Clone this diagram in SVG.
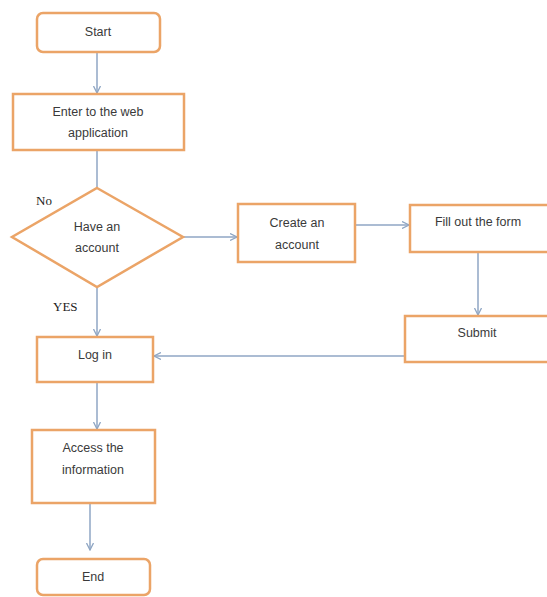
<svg xmlns="http://www.w3.org/2000/svg" width="547" height="597" viewBox="0 0 547 597">
<defs>
<style>
.box{fill:#fff;stroke:#EBA467;stroke-width:2.5}
.t{font-family:"Liberation Sans",Arial,sans-serif;font-size:12.5px;fill:#3a3a3a;text-anchor:middle;dominant-baseline:central}
.lbl{font-family:"Liberation Serif","Times New Roman",serif;font-size:13px;fill:#222;dominant-baseline:central}
.c{fill:none;stroke:#8FA6C4;stroke-width:1.5}
</style>
<marker id="ah" viewBox="0 0 8 8" refX="7" refY="4" markerWidth="8" markerHeight="8" markerUnits="userSpaceOnUse" orient="auto">
<path d="M0,0.5 L7,4 L0,7.5" fill="none" stroke="#8FA6C4" stroke-width="1.3"/>
</marker>
</defs>
<rect width="547" height="597" fill="#fff"/>
<g id="connectors">
<line class="c" x1="97" y1="52" x2="97" y2="93" marker-end="url(#ah)"/>
<line class="c" x1="97" y1="150" x2="97" y2="188"/>
<line class="c" x1="183" y1="237" x2="237" y2="237" marker-end="url(#ah)"/>
<line class="c" x1="355" y1="225" x2="409" y2="225" marker-end="url(#ah)"/>
<line class="c" x1="478" y1="252" x2="478" y2="315" marker-end="url(#ah)"/>
<line class="c" x1="97" y1="287" x2="97" y2="336" marker-end="url(#ah)"/>
<line class="c" x1="405" y1="356" x2="154" y2="356" marker-end="url(#ah)"/>
<line class="c" x1="97" y1="382" x2="97" y2="429" marker-end="url(#ah)"/>
<line class="c" x1="90" y1="503" x2="90" y2="550" marker-end="url(#ah)"/>
</g>
<g id="start">
<rect class="box" x="37" y="13" width="123" height="39" rx="6"/>
<text class="t" x="98" y="32">Start</text>
</g>
<g id="enter">
<rect class="box" x="13" y="94" width="171" height="56"/>
<text class="t" x="98" y="112">Enter to the web</text>
<text class="t" x="98" y="133">application</text>
</g>
<g id="decision">
<polygon class="box" points="97,188 183,237 97,287 12,237"/>
<text class="t" x="97" y="227">Have an</text>
<text class="t" x="97" y="248">account</text>
</g>
<g id="labels">
<text class="lbl" x="36" y="200">No</text>
<text class="lbl" x="53" y="306">YES</text>
</g>
<g id="create">
<rect class="box" x="238" y="204" width="117" height="58"/>
<text class="t" x="297" y="223">Create an</text>
<text class="t" x="297" y="245">account</text>
</g>
<g id="fill">
<rect class="box" x="410" y="205" width="140" height="47"/>
<text class="t" x="478" y="222">Fill out the form</text>
</g>
<g id="submit">
<rect class="box" x="405" y="316" width="145" height="46"/>
<text class="t" x="477" y="333">Submit</text>
</g>
<g id="login">
<rect class="box" x="37" y="337" width="116" height="45"/>
<text class="t" x="95" y="355">Log in</text>
</g>
<g id="access">
<rect class="box" x="32" y="430" width="123" height="73"/>
<text class="t" x="93" y="448">Access the</text>
<text class="t" x="93" y="470">information</text>
</g>
<g id="end">
<rect class="box" x="37" y="559" width="113" height="36" rx="6"/>
<text class="t" x="93" y="577">End</text>
</g>
</svg>
